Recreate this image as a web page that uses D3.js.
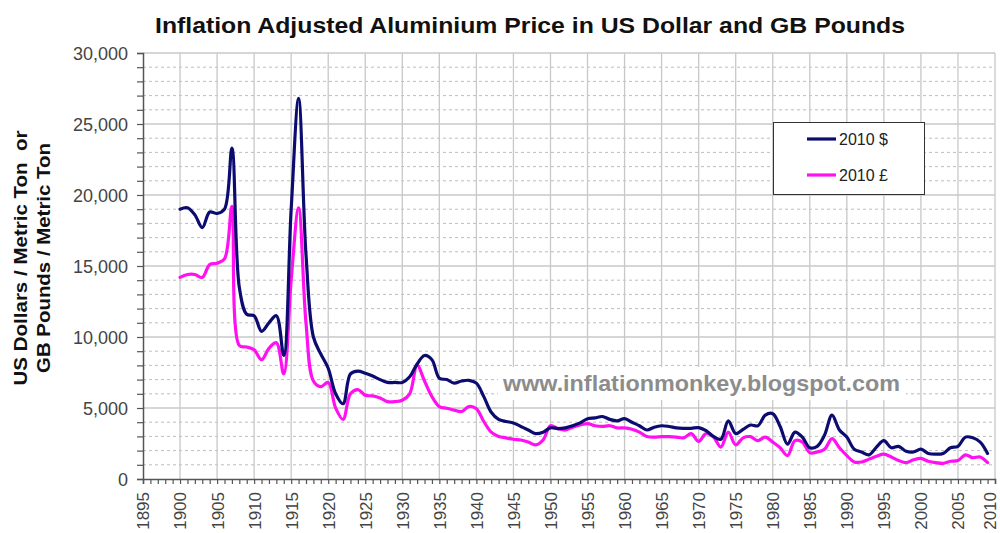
<!DOCTYPE html>
<html>
<head>
<meta charset="utf-8">
<script src="https://cdn.jsdelivr.net/npm/d3@7"></script>
<style>
  html, body { margin: 0; padding: 0; background: #fff; }
  svg { display: block; font-family: "Liberation Sans", Arial, sans-serif; }
</style>
</head>
<body>
<svg id="chart" width="1000" height="533"></svg>
<script>
const years = d3.range(1900, 2010);
const usd = [
  19000, 19100, 18600, 17700, 18800, 18700, 19000, 23300, 13500, 11600,
  11500, 10400, 11000, 11500, 8700, 19000, 26800, 15800, 10000, 8800,
  7800, 6000, 5300, 7400, 7600, 7450, 7250, 7000, 6800, 6800,
  6800, 7200, 8100, 8700, 8400, 7100, 7000, 6750, 6900, 6950,
  6750, 5800, 4700, 4200, 4050, 3950, 3700, 3450, 3200, 3300,
  3600, 3550, 3600, 3750, 3950, 4250, 4300, 4400, 4200, 4100,
  4250, 4000, 3750, 3450, 3650, 3750, 3700, 3600, 3570, 3570,
  3620, 3400, 3000, 2800, 4100, 3200, 3500, 3800, 3750, 4500,
  4600, 3700, 2450, 3300, 2950, 2200, 2300, 3100, 4500, 3450,
  2950, 2100, 1900, 1700, 2250, 2700, 2200, 2300, 1950, 1900,
  2100, 1800, 1750, 1800, 2200, 2300, 2950, 2900, 2600, 1800
];
const gbp = [
  14200, 14400, 14400, 14200, 15100, 15200, 15500, 19200, 9400, 9300,
  9100, 8400, 9200, 9600, 7400, 14000, 19100, 11000, 6900, 6500,
  6800, 5000, 4200, 6000, 6300, 5900, 5850, 5700, 5450, 5450,
  5550, 6000, 8000, 6900, 5800, 5100, 4980, 4850, 4750, 5100,
  4950, 4050, 3300, 3000, 2900, 2800, 2750, 2600, 2400, 2750,
  3750, 3550, 3450, 3650, 3800, 3900, 3750, 3700, 3750, 3600,
  3600, 3500, 3300, 3000, 2950, 2980, 2980, 2950, 2900, 3200,
  2650, 3200, 2950, 2250, 3300, 2400, 2900, 2980, 2700, 2950,
  2600, 2200, 1650, 2700, 2600, 1850, 1900, 2100, 2850, 2200,
  1650, 1200, 1200, 1400, 1600, 1750, 1550, 1300, 1150, 1350,
  1450, 1250, 1150, 1100, 1250, 1300, 1700, 1500, 1550, 1150
];
const seriesNames = ["2010 $", "2010 £"];
const seriesColors = ["#0c0c70", "#ff10f0"];
const xTickYears = d3.range(1895, 2011, 5);
const yTickValues = d3.range(0, 30001, 5000);
const yMinorValues = d3.range(0, 30001, 1000);
const xMinorYears = d3.range(1895, 2011, 1);
const titleText = "Inflation Adjusted Aluminium Price in US Dollar and GB Pounds";
const yLabelLines = ["US Dollars / Metric Ton  or", "GB Pounds / Metric Ton"];
const watermark = "www.inflationmonkey.blogspot.com";

const svg = d3.select("#chart");
const L = 143, R = 995, T = 53, B = 479;
const x = d3.scaleLinear().domain([1895, 2010]).range([L, R]);
const y = d3.scaleLinear().domain([0, 30000]).range([B, T]);

// gridlines
const grid = svg.append("g");
grid.selectAll("line.hminor").data(yMinorValues.filter(v => v % 5000 !== 0)).join("line")
  .attr("x1", L).attr("x2", R).attr("y1", d => y(d)).attr("y2", d => y(d))
  .attr("stroke", "#bdbdbd").attr("stroke-width", 1).attr("stroke-dasharray", "3,3");
grid.selectAll("line.vmajor").data(xTickYears.filter(v => v > 1895)).join("line")
  .attr("x1", d => x(d)).attr("x2", d => x(d)).attr("y1", T).attr("y2", B)
  .attr("stroke", "#c8c8c8").attr("stroke-width", 1.3);
grid.selectAll("line.hmajor").data(yTickValues.filter(v => v > 0)).join("line")
  .attr("x1", L).attr("x2", R).attr("y1", d => y(d)).attr("y2", d => y(d))
  .attr("stroke", "#c8c8c8").attr("stroke-width", 1.3);

// watermark (white box behind)
const wm = svg.append("g");
wm.append("rect").attr("x", 498).attr("y", 367).attr("width", 408).attr("height", 33).attr("fill", "#fff");
wm.append("text").attr("x", 503).attr("y", 391)
  .attr("font-size", 22).attr("font-weight", "bold").attr("fill", "#8c8c8c")
  .attr("textLength", 397).attr("lengthAdjust", "spacingAndGlyphs").text(watermark);

// axes
const yAxis = d3.axisLeft(y).tickValues(yMinorValues).tickSize(6).tickFormat(d => d % 5000 === 0 ? d3.format(",")(d) : "").tickPadding(9);
const gy = svg.append("g").attr("transform", `translate(${L},0)`).call(yAxis);
gy.select(".domain").attr("stroke", "#555").attr("stroke-width", 1.5);
gy.selectAll(".tick line").attr("stroke", "#555").attr("stroke-width", 1.2);
gy.selectAll(".tick text").attr("font-size", 18).attr("fill", "#444").attr("dy", "0.35em").attr("font-family", "Liberation Sans, Arial, sans-serif");

const xAxis = d3.axisBottom(x).tickValues(xMinorYears).tickSize(5).tickFormat(d => d % 5 === 0 ? d : "");
const gx = svg.append("g").attr("transform", `translate(0,${B})`).call(xAxis);
gx.select(".domain").attr("stroke", "#555").attr("stroke-width", 1.5);
gx.selectAll(".tick line").attr("stroke", "#555").attr("stroke-width", 1.2);
gx.selectAll(".tick text").attr("font-size", 17).attr("fill", "#444")
  .attr("font-family", "Liberation Sans, Arial, sans-serif")
  .attr("text-anchor", "end").attr("transform", "rotate(-90)")
  .attr("x", -13).attr("y", d => d === 2010 ? -5 : 0).attr("dy", "0.35em");

// lines
const line = d3.line().x((d, i) => x(years[i])).y(d => y(d)).curve(d3.curveCatmullRom.alpha(0.5));
[gbp, usd].forEach((s, k) => {
  const idx = k === 0 ? 1 : 0;
  svg.append("path").datum(s).attr("d", line)
    .attr("fill", "none").attr("stroke", seriesColors[idx]).attr("stroke-width", 3.2)
    .attr("stroke-linejoin", "round").attr("stroke-linecap", "round");
});

// legend
const lg = svg.append("g");
lg.append("rect").attr("x", 773.5).attr("y", 122.5).attr("width", 151).attr("height", 72)
  .attr("fill", "#fff").attr("stroke", "#333").attr("stroke-width", 1);
seriesNames.forEach((n, i) => {
  const yy = 139 + i * 36;
  lg.append("line").attr("x1", 807).attr("x2", 836).attr("y1", yy).attr("y2", yy)
    .attr("stroke", seriesColors[i]).attr("stroke-width", 3.2);
  lg.append("text").attr("x", 839).attr("y", yy).attr("dy", "0.35em")
    .attr("font-size", 16).attr("fill", "#222").text(n);
});

// title
svg.append("text").attr("x", 155).attr("y", 33)
  .attr("font-size", 22).attr("font-weight", "bold").attr("fill", "#111")
  .attr("textLength", 750).attr("lengthAdjust", "spacingAndGlyphs").text(titleText);

// y label
const yl = svg.append("text").attr("transform", "translate(0,258) rotate(-90)")
  .attr("text-anchor", "middle").attr("font-size", 19).attr("font-weight", "bold").attr("fill", "#111")
  .style("white-space", "pre");
yl.append("tspan").attr("x", 0).attr("y", 27).attr("textLength", 255).attr("lengthAdjust", "spacingAndGlyphs").text(yLabelLines[0]);
yl.append("tspan").attr("x", 0).attr("y", 50).attr("textLength", 230).attr("lengthAdjust", "spacingAndGlyphs").text(yLabelLines[1]);
</script>
</body>
</html>
